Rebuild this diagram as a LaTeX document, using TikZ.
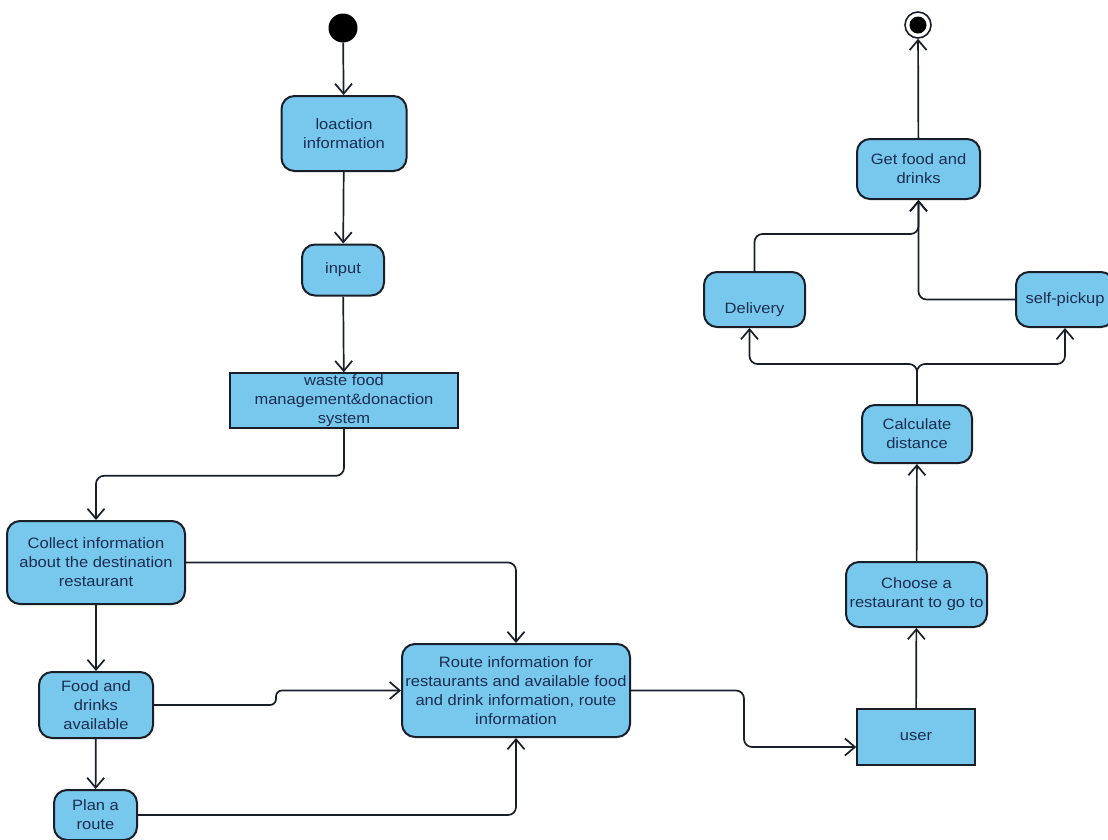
\documentclass[tikz,border=0pt]{standalone}
\usepackage{fontspec}
\setmainfont{Liberation Sans}[FakeStretch=1.1]
\usetikzlibrary{arrows.meta}
\definecolor{actblue}{RGB}{120,200,238}
\definecolor{actink}{RGB}{25,45,80}
\definecolor{edgeink}{RGB}{25,30,40}

\begin{document}
\begin{tikzpicture}[x=1pt, y=-1pt,
    act/.style={draw=edgeink, line width=2pt, fill=actblue, rounded corners=13pt,
        align=center, text=actink, inner sep=0pt, font=\fontsize{15}{19}\selectfont},
    objbox/.style={act, rounded corners=0pt, line width=1.6pt},
    flow/.style={draw=edgeink, line width=1.7pt, rounded corners=8pt,
        -{Straight Barb[length=10pt,width=17pt]}}]
\useasboundingbox (0,0) rectangle (1108,839);

% start and end
\node[circle, fill=black, minimum size=29pt, inner sep=0pt] (start) at (343,28) {};
\node[circle, draw=edgeink, line width=1.6pt, fill=white, minimum size=26pt, inner sep=0pt] (endst) at (918,25) {};
\fill (endst) circle (8.5pt);

% left column
\node[act, minimum width=125pt, minimum height=75pt] (loc) at (344,133.5) {loaction\\information};
\node[act, minimum width=82pt, minimum height=51pt] (inp) at (343,270) {input};
\node[objbox, minimum width=228pt, minimum height=55pt] (waste) at (344,400.5) {waste food\\management\&donaction\\system};
\node[act, minimum width=178pt, minimum height=83pt] (collect) at (96,562.5) {Collect information\\about the destination\\restaurant};
\node[act, minimum width=114pt, minimum height=66pt] (food) at (96,705) {Food and\\drinks\\available};
\node[act, minimum width=83pt, minimum height=50pt] (plan) at (95.5,815) {Plan a\\route};
\node[act, minimum width=228pt, minimum height=93pt] (route) at (516,690.5) {Route information for\\restaurants and available food\\and drink information, route\\information};

% right column
\node[objbox, minimum width=118pt, minimum height=56pt] (user) at (916,737) {user};
\node[act, minimum width=141pt, minimum height=65pt] (choose) at (916.5,594.5) {Choose a\\restaurant to go to};
\node[act, minimum width=110pt, minimum height=58pt] (calc) at (917,434) {Calculate\\distance};
\node[act, minimum width=101pt, minimum height=55pt] (deliv) at (754.5,299.5) {\raisebox{-14pt}[0pt][0pt]{Delivery}};
\node[act, minimum width=98pt, minimum height=55pt] (self) at (1065,299.5) {self-pickup};
\node[act, minimum width=123pt, minimum height=60pt] (get) at (918.5,169) {Get food and\\drinks};

% flows
\draw[flow] (start) -- (loc);
\draw[flow] (loc) -- (inp);
\draw[flow] (inp) -- (waste);
\draw[flow] (waste.south) -- ++(0,47) -| (collect.north);
\draw[flow] (collect.east) -| (route.north);
\draw[flow] (collect) -- (food);
\draw[flow, rounded corners=6pt] (food.east) -- ++(122,0) |- (route.west);
\draw[flow] (food) -- (plan);
\draw[flow] (plan.east) -| (route.south);
\draw[flow] (route.east) -- ++(113,0) |- ([yshift=-10pt]user.west);
\draw[flow] (user) -- (choose);
\draw[flow] (choose) -- (calc);
\draw[flow] (calc.north) -- ++(0,-40) -| ([xshift=-5pt]deliv.south);
\draw[flow] (calc.north) -- ++(0,-40) -| (self.south);
\draw[flow] (deliv.north) -- ++(0,-37) -| (get.south);
\draw[flow] (self.west) -| (get.south);
\draw[flow] (get) -- (endst);
\end{tikzpicture}
\end{document}
